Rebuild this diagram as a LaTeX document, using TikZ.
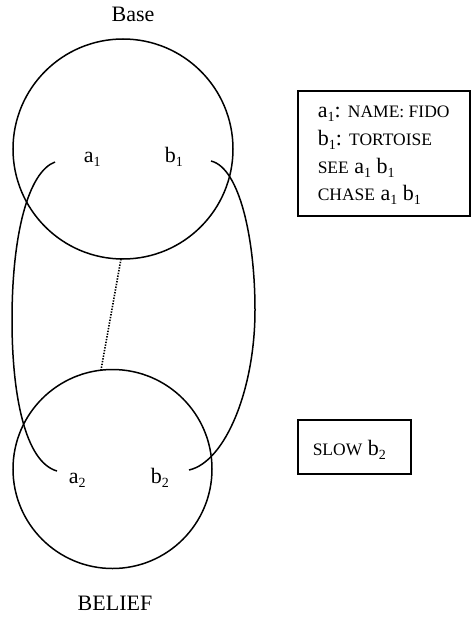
\documentclass[tikz,border=0pt]{standalone}
\usepackage{fontspec}
\setmainfont{Liberation Serif}
\newcommand\sbs[1]{\raisebox{-4pt}{\fontsize{14}{14}\selectfont #1}}
\newcommand\smc[1]{{\fontsize{17.5}{17.5}\selectfont #1}}
\begin{document}
\begin{tikzpicture}[x=1pt,y=-1pt, line width=1.5pt,
  lbl/.style={font=\fontsize{22}{26}\selectfont, inner sep=0pt, anchor=base west},
  boxstyle/.style={draw, line width=1.5pt, inner sep=0pt, anchor=north west}]
\useasboundingbox (0,0) rectangle (473,618);
\node[circle, draw, minimum size=220pt, inner sep=0pt] (base) at (123,149) {};
\node[circle, draw, minimum size=199pt, inner sep=0pt] (belief) at (112.5,469) {};
\node[lbl, anchor=base] (baselbl) at (133,22) {Base};
\node[lbl, anchor=base] (belieflbl) at (115,610) {BELIEF};
\node[lbl] (a1) at (83,162) {a\sbs{1}};
\node[lbl] (b1) at (164,162) {b\sbs{1}};
\node[lbl] (a2) at (68,483) {a\sbs{2}};
\node[lbl] (b2) at (150,483) {b\sbs{2}};
\coordinate (a1e) at (55,162);
\coordinate (a2e) at (57,471);
\coordinate (b1e) at (211,161);
\coordinate (b2e) at (189,470);
\draw (a1e) .. controls (28,172) and (12,235) .. (12,320) .. controls (12,395) and (25,462) .. (a2e);
\draw (b1e) .. controls (240,168) and (255,240) .. (255,310) .. controls (255,390) and (225,462) .. (b2e);
\coordinate (d1) at (121,259);
\coordinate (d2) at (101,370);
\draw[line width=1.6pt, dash pattern=on 1.4pt off 1.4pt] (d1) -- (d2);
\node[boxstyle, minimum width=172pt, minimum height=125pt] (box1) at (297,90) {};
\node[lbl] (t1) at (317,117) {a\sbs{1}: \smc{NAME: FIDO}};
\node[lbl] (t2) at (317,145) {b\sbs{1}: \smc{TORTOISE}};
\node[lbl] (t3) at (317,173) {\smc{SEE} a\sbs{1} b\sbs{1}};
\node[lbl] (t4) at (317,200) {\smc{CHASE} a\sbs{1} b\sbs{1}};
\node[boxstyle, minimum width=113pt, minimum height=54pt] (box2) at (297,419) {};
\node[lbl] (t5) at (312,455) {\smc{SLOW} b\sbs{2}};
\end{tikzpicture}
\end{document}
